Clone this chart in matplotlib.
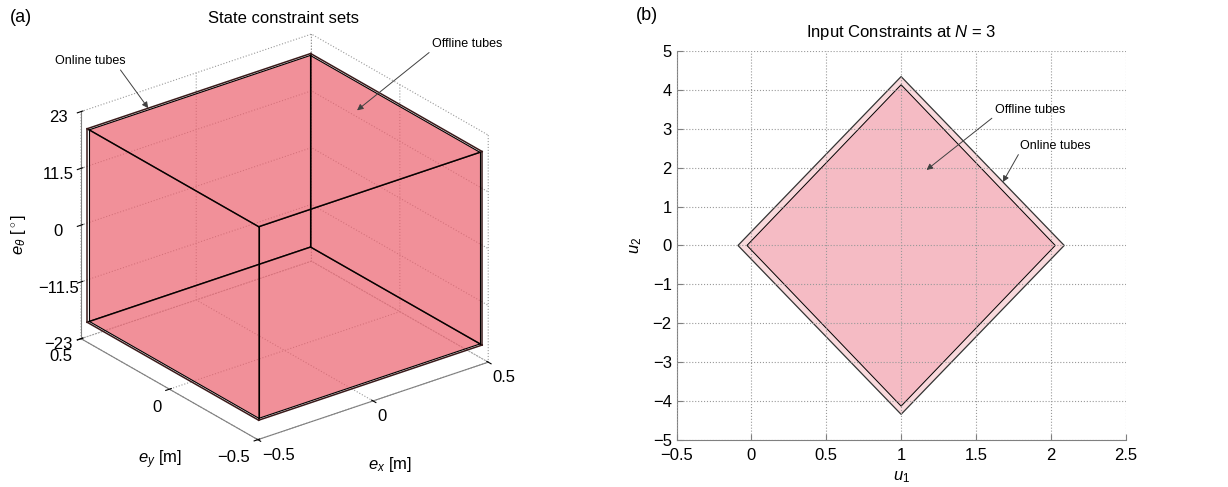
import numpy as np
import matplotlib
matplotlib.use('Agg')
import matplotlib.pyplot as plt
from mpl_toolkits.mplot3d import proj3d
from mpl_toolkits.mplot3d.art3d import Poly3DCollection

plt.rcParams['font.family'] = ['Liberation Sans', 'DejaVu Sans']
plt.rcParams['mathtext.fontset'] = 'custom'
plt.rcParams['mathtext.it'] = 'Liberation Sans:italic'
plt.rcParams['mathtext.rm'] = 'Liberation Sans'
plt.rcParams['font.size'] = 12

# state constraint sets: half widths in e_x [m], e_y [m], e_theta [deg]
offline_box = [0.48, 0.48, 19.4]
online_box = [0.485, 0.485, 19.6]
ex_ticks = [-0.5, 0, 0.5]
ey_ticks = [-0.5, 0, 0.5]
eth_ticks = [-23, -11.5, 0, 11.5, 23]

# input constraint sets at N = 3 (diamond vertices)
offline_u1 = [1.0, 2.03, 1.0, -0.03]
offline_u2 = [4.13, 0.0, -4.13, 0.0]
online_u1 = [1.0, 2.09, 1.0, -0.09]
online_u2 = [4.34, 0.0, -4.34, 0.0]
u1_ticks = [-0.5, 0, 0.5, 1, 1.5, 2, 2.5]
u2_ticks = [-5, -4, -3, -2, -1, 0, 1, 2, 3, 4, 5]


def box_corners(h):
    return np.array([[sx*h[0], sy*h[1], sz*h[2]]
                     for sx in (-1, 1) for sy in (-1, 1) for sz in (-1, 1)])


def box_faces(h):
    c = box_corners(h)
    idx = [[0, 1, 3, 2], [4, 5, 7, 6], [0, 1, 5, 4],
           [2, 3, 7, 6], [0, 2, 6, 4], [1, 3, 7, 5]]
    return [c[f] for f in idx]


def box_edges(h):
    c = box_corners(h)
    out = []
    for i in range(8):
        for b in (1, 2, 4):
            if i & b == 0:
                out.append((c[i], c[i | b]))
    return out


def minus(vals):
    return [('%g' % t).replace('-', '\u2212') for t in vals]


fig = plt.figure(figsize=(12.28, 4.87), dpi=100)

# ---------------- (a) state constraint sets ----------------
ax = fig.add_axes([-0.054, -0.041, 0.56, 1.08], projection='3d')
ax.set_proj_type('ortho')
ax.view_init(elev=26, azim=-127.5)
ax.set_box_aspect((1, 1, 0.87), zoom=0.89)
ax.computed_zorder = False

pink = (0.93, 0.38, 0.43, 0.45)
ax.add_collection3d(Poly3DCollection(box_faces(offline_box), facecolors=pink,
                                     edgecolors='none'))
for p, q in box_edges(online_box):
    ax.plot(*zip(p, q), color='#3a1a1a', lw=1.1)
for p, q in box_edges(offline_box):
    ax.plot(*zip(p, q), color='k', lw=0.8)

ax.set_xlim(-0.5, 0.5)
ax.set_ylim(-0.5, 0.5)
ax.set_zlim(-23, 23)
ax.set_xticks(ex_ticks)
ax.set_yticks(ey_ticks)
ax.set_zticks(eth_ticks)
ax.set_xticklabels(minus(ex_ticks), ha='left')
ax.set_yticklabels(minus(ey_ticks), ha='right')
ax.set_zticklabels(minus(eth_ticks))
ax.tick_params(axis='x', pad=-3)
ax.tick_params(axis='y', pad=-1)
ax.tick_params(axis='z', pad=3)
for a in (ax.xaxis, ax.yaxis, ax.zaxis):
    a.set_pane_color((1, 1, 1, 0))
    a.pane.set_edgecolor('0.6')
    a.pane.set_linestyle(':')
    a.line.set_color('0.5')
    a._axinfo['grid'].update(color='0.6', linestyle=':', linewidth=0.8)

# axis labels and title of the 3-D panel
fig.text(0.1303, 0.0554, r'$e_y$ [m]', fontsize=12, ha='center', va='center')
fig.text(0.3176, 0.0452, r'$e_x$ [m]', fontsize=12, ha='center', va='center')
fig.text(0.0147, 0.5175, r'$e_\theta$ [$^\circ$]', fontsize=12, ha='center',
         va='center', rotation=90)
fig.text(0.231, 0.963, 'State constraint sets', fontsize=12, ha='center',
         va='center')

fig.canvas.draw()


def to2d(x, y, z):
    px, py, _ = proj3d.proj_transform(x, y, z, ax.get_proj())
    return px, py


arrow = dict(arrowstyle='-|>', color='0.25', lw=0.7, mutation_scale=9,
             shrinkA=0, shrinkB=0)
ax.annotate('Online tubes', xy=to2d(-0.22, online_box[1], online_box[2]),
            xytext=(-58, 47), textcoords='offset pixels', ha='center',
            va='center', fontsize=9,
            arrowprops=dict(arrow, relpos=(0.9, 0.0)))
ax.annotate('Offline tubes', xy=to2d(0.345, 0.04, offline_box[2]),
            xytext=(110, 66), textcoords='offset pixels', ha='center',
            va='center', fontsize=9,
            arrowprops=dict(arrow, relpos=(0.0, 0.0)))

# ---------------- (b) input constraints ----------------
bx = fig.add_axes([0.551, 0.0965, 0.3656, 0.799])
bx.fill(online_u1, online_u2, facecolor='#f9d9dc', edgecolor='#333333', lw=0.9)
bx.fill(offline_u1, offline_u2, facecolor='#f5bbc4', edgecolor='k', lw=0.7)
bx.set_xlim(-0.5, 2.5)
bx.set_ylim(-5, 5)
bx.set_xticks(u1_ticks)
bx.set_yticks(u2_ticks)
bx.set_xticklabels(minus(u1_ticks))
bx.set_yticklabels(minus(u2_ticks))
bx.grid(True, color='0.6', linestyle=':', linewidth=0.8)
bx.set_axisbelow(False)
bx.tick_params(direction='in', length=4, color='0.5', labelsize=12)
bx.tick_params(axis='x', pad=6)
for s in ('top', 'right'):
    bx.spines[s].set_visible(False)
for s in ('left', 'bottom'):
    bx.spines[s].set_color('0.5')
bx.set_xlabel(r'$u_1$', fontsize=12, labelpad=4)
bx.set_ylabel(r'$u_2$', fontsize=12, labelpad=6)
bx.set_title(r'Input Constraints at $N$ = 3', fontsize=12, pad=10)

bx.annotate('Offline tubes', xy=(1.17, 1.94), xytext=(1.86, 3.48),
            ha='center', va='center', fontsize=9,
            arrowprops=dict(arrow, relpos=(0.0, 0.0)))
bx.annotate('Online tubes', xy=(1.68, 1.63), xytext=(2.03, 2.56),
            ha='center', va='center', fontsize=9,
            arrowprops=dict(arrow, relpos=(0.0, 0.0)))

fig.text(0.008, 0.965, '(a)', fontsize=13, va='center')
fig.text(0.518, 0.968, '(b)', fontsize=13, va='center')

fig.savefig('out.png', dpi=100)
